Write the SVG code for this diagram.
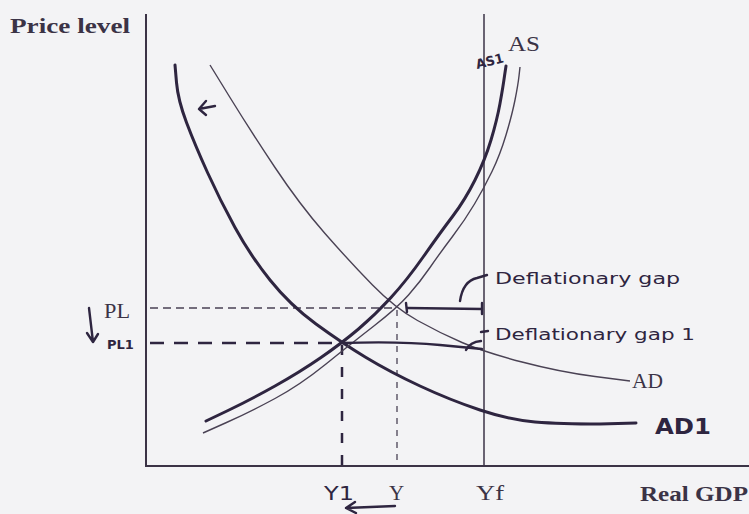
<svg xmlns="http://www.w3.org/2000/svg" width="749" height="514" viewBox="0 0 749 514">
<style>
.ax{stroke:#3b3346;fill:none}
.thin{stroke:#4a4254;stroke-width:1.4;fill:none}
.thick{stroke:#2e2540;stroke-width:3;fill:none;stroke-linecap:round;stroke-linejoin:round}
.hand{stroke:#2e2540;stroke-width:2.4;fill:none;stroke-linecap:round;stroke-linejoin:round}
.serif{font-family:"Liberation Serif","DejaVu Serif",serif;fill:#3b3346}
.bold{font-weight:bold}
.hw{font-family:"DejaVu Sans","Liberation Sans",sans-serif;fill:#2e2540;font-weight:bold}
.hwn{font-family:"DejaVu Sans","Liberation Sans",sans-serif;fill:#2e2540;font-weight:normal}
</style>
<rect width="749" height="514" fill="#f3f3f5"/>
<g id="axes">
<line class="ax" x1="146" y1="14" x2="146" y2="467" stroke-width="2"/>
<line class="ax" x1="145" y1="466" x2="749" y2="466" stroke-width="2"/>
<line class="ax" x1="484" y1="14" x2="484" y2="466" stroke-width="1.5"/>
<text class="serif bold" x="10" y="33" font-size="21" textLength="120" lengthAdjust="spacingAndGlyphs">Price level</text>
<text class="serif bold" x="640" y="501" font-size="21" textLength="108" lengthAdjust="spacingAndGlyphs">Real GDP</text>
<text class="serif" x="476" y="500" font-size="21" textLength="28" lengthAdjust="spacingAndGlyphs">Yf</text>
<text class="serif" x="389" y="500" font-size="21">Y</text>
<text class="serif" x="104" y="318" font-size="21" textLength="26" lengthAdjust="spacingAndGlyphs">PL</text>
</g>
<g id="connectors">
<line x1="150" y1="308" x2="397" y2="308" stroke="#4a4254" stroke-width="1.5" stroke-dasharray="8,5"/>
<line x1="397" y1="310" x2="397" y2="466" stroke="#4a4254" stroke-width="1.3" stroke-dasharray="6,6"/>
<line x1="150" y1="343" x2="342" y2="343" stroke="#2e2540" stroke-width="2.3" stroke-dasharray="14,10"/>
<line x1="342" y1="345" x2="342" y2="466" stroke="#2e2540" stroke-width="2.5" stroke-dasharray="10,12"/>
</g>
<g id="AD">
<path class="thin" d="M210,65 L230,97.5 Q250,130 275,167.5 Q300,205 325,233.5 Q350,262 372.5,285 Q395,308 417.5,320.5 Q440,333 462,342.5 Q484,352 522,362 Q560,372 595,376.5 L630,381"/>
<text class="serif" x="632" y="388" font-size="21" textLength="31" lengthAdjust="spacingAndGlyphs">AD</text>
</g>
<g id="AD1">
<path class="thick" d="M175,65 L176.5,82.5 Q178,100 186.5,122.5 Q195,145 207.5,172.5 Q220,200 235,227.5 Q250,255 270,280 Q290,305 316,324 Q342,343 366,357.5 Q390,372 420,386 Q450,400 480,410 Q510,420 535,422 Q560,424 600,424 L636,423"/>
<text class="hw" x="655" y="434" font-size="21" textLength="56" lengthAdjust="spacingAndGlyphs">AD1</text>
</g>
<g id="AS">
<path class="thin" d="M203,433 L226.5,422.5 Q250,412 275,398.5 Q300,385 326,364 Q352,343 374.5,325.5 Q397,308 408.5,295 Q420,282 430,267.5 Q440,253 452.5,236.5 Q465,220 474.5,204 Q484,188 492,171.5 Q500,155 506,135 Q512,115 515,100 Q518,85 519,76 L520,67"/>
<text class="serif" x="508" y="51" font-size="21" textLength="32" lengthAdjust="spacingAndGlyphs">AS</text>
</g>
<g id="AS1">
<path class="thick" d="M206,421 L228,410.5 Q250,400 275,386 Q300,372 321,357.5 Q342,343 358.5,329 Q375,315 391,297.5 Q407,280 423.5,256.5 Q440,233 452.5,216.5 Q465,200 475,180 Q485,160 491,140 Q497,120 500,103.5 Q503,87 504.5,76 L506,66"/>
<text class="hw" x="0" y="0" font-size="13" transform="translate(477,69) rotate(-14)">AS1</text>
</g>
<g id="gap1">
<line class="hand" x1="407" y1="308" x2="482" y2="309"/>
<line class="hand" x1="406" y1="303" x2="407" y2="312"/>
<line class="hand" x1="482" y1="303" x2="482" y2="314"/>
<path class="hand" d="M460,301 Q463,281 477,278 L487,275" stroke-width="2"/>
<text class="hwn" x="495" y="284" font-size="16" textLength="185" lengthAdjust="spacingAndGlyphs">Deflationary gap</text>
</g>
<g id="gap2">
<path class="hand" d="M342,343 Q400,341 440,345 L482,349"/>
<path class="hand" d="M466,350 Q470,342 481,341" stroke-width="2"/>
<line class="hand" x1="481" y1="332" x2="488" y2="331" stroke-width="2"/>
<text class="hwn" x="495" y="340" font-size="16" textLength="200" lengthAdjust="spacingAndGlyphs">Deflationary gap 1</text>
</g>
<g id="annotations">
<text class="hw" x="107" y="349" font-size="13">PL1</text>
<path class="hand" d="M89,308 L93,342 M87,333 L93,342 L98,334" stroke-width="2"/>
<text class="hwn" x="324" y="500" font-size="20" textLength="30" lengthAdjust="spacingAndGlyphs">Y1</text>
<path class="hand" d="M395,506 L346,508 M355,502 L346,508 L356,513" stroke-width="2.2"/>
<path class="hand" d="M215,106 L199,109 M206,101 L199,109 L206,115" stroke-width="1.8"/>
</g>
</svg>
